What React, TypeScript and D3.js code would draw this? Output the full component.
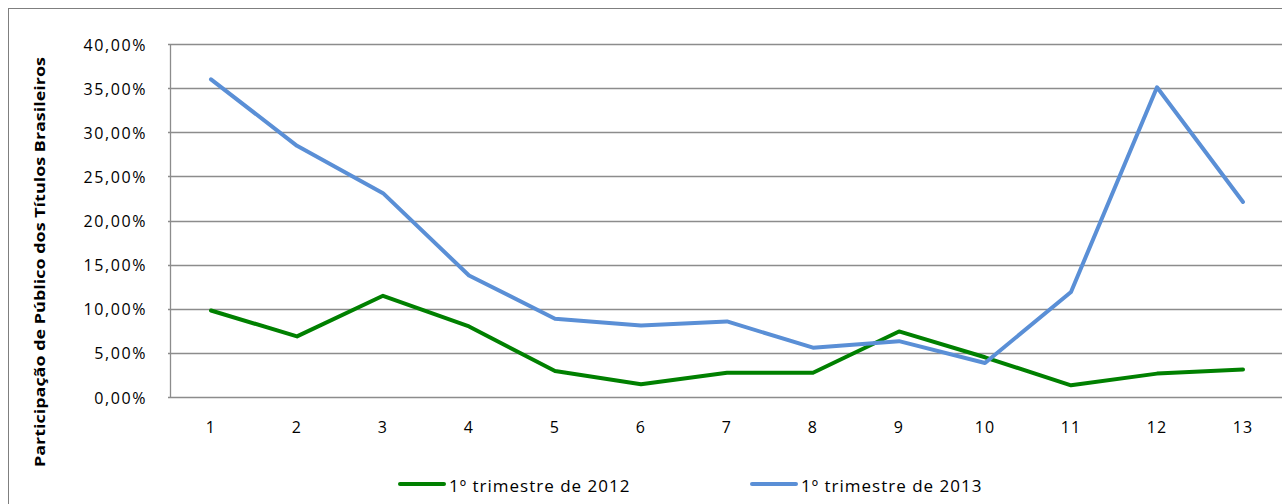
import React, { useEffect, useRef } from "react";
import * as d3 from "d3";

// categories on the x axis
const categories = ["1", "2", "3", "4", "5", "6", "7", "8", "9", "10", "11", "12", "13"];

// share of audience (%) per series
const values2012 = [9.8, 6.87, 11.47, 8.0, 2.94, 1.44, 2.75, 2.75, 7.43, 4.5, 1.32, 2.65, 3.13];
const values2013 = [36.0, 28.46, 23.1, 13.77, 8.87, 8.11, 8.56, 5.59, 6.33, 3.85, 11.9, 35.1, 22.1];

const seriesNames = ["1º trimestre de 2012", "1º trimestre de 2013"];
const yTicks = [0, 5, 10, 15, 20, 25, 30, 35, 40];

const colors = ["#008000", "#5A8FD6"];
const FONT = "'Open Sans', 'Noto Sans', sans-serif";

const App = () => {
  const svgRef = useRef<SVGSVGElement>(null);

  useEffect(() => {
    const svg = d3.select(svgRef.current);
    svg.selectAll("*").remove();

    const W = 1282;
    const H = 504;

    // outer chart border (cut off on right and bottom like the reference)
    svg
      .append("rect")
      .attr("x", 8.5)
      .attr("y", 8.5)
      .attr("width", W + 20)
      .attr("height", H + 20)
      .attr("fill", "#fff")
      .attr("stroke", "#7f7f7f")
      .attr("stroke-width", 1);

    const plot = { left: 168, top: 44, bottom: 397 };
    const bandW = 86;
    const plotRight = plot.left + bandW * categories.length;

    const x = d3
      .scaleBand()
      .domain(categories)
      .range([plot.left, plotRight]);
    const y = d3.scaleLinear().domain([0, 40]).range([plot.bottom, plot.top]);

    // gridlines
    svg
      .append("g")
      .selectAll("line")
      .data(yTicks)
      .enter()
      .append("line")
      .attr("x1", plot.left)
      .attr("x2", plotRight)
      .attr("y1", (d) => Math.round(y(d)) + 0.5)
      .attr("y2", (d) => Math.round(y(d)) + 0.5)
      .attr("stroke", "#8c8c8c")
      .attr("stroke-width", 1.3);

    // left axis line
    svg
      .append("line")
      .attr("x1", plot.left + 2.5)
      .attr("x2", plot.left + 2.5)
      .attr("y1", plot.top)
      .attr("y2", plot.bottom + 1)
      .attr("stroke", "#8c8c8c")
      .attr("stroke-width", 1.3);

    // y tick labels
    const fmt = (d: number) => d.toFixed(2).replace(".", ",") + "%";
    svg
      .append("g")
      .selectAll("text")
      .data(yTicks)
      .enter()
      .append("text")
      .attr("x", 147)
      .attr("y", (d) => y(d) + 6.5)
      .attr("text-anchor", "end")
      .attr("font-family", FONT)
      .attr("font-size", 16)
      .attr("letter-spacing", 1.6)
      .attr("fill", "#000")
      .text(fmt);

    // x tick labels
    svg
      .append("g")
      .selectAll("text")
      .data(categories)
      .enter()
      .append("text")
      .attr("x", (d) => (x(d) as number) + x.bandwidth() / 2)
      .attr("y", 433)
      .attr("text-anchor", "middle")
      .attr("font-family", FONT)
      .attr("font-size", 16)
      .attr("letter-spacing", 1.2)
      .attr("fill", "#000")
      .text((d) => d);

    // y axis title
    svg
      .append("text")
      .attr("transform", "translate(45,262) rotate(-90)")
      .attr("text-anchor", "middle")
      .attr("font-family", FONT)
      .attr("font-weight", "bold")
      .attr("font-size", 15)
      .attr("textLength", 410)
      .attr("lengthAdjust", "spacingAndGlyphs")
      .attr("fill", "#000")
      .text("Participação  de Público  dos Títulos  Brasileiros");

    // lines
    const line = d3
      .line<number>()
      .x((_, i) => (x(categories[i]) as number) + x.bandwidth() / 2)
      .y((d) => y(d));

    [values2012, values2013].forEach((vals, i) => {
      svg
        .append("path")
        .datum(vals)
        .attr("d", line)
        .attr("fill", "none")
        .attr("stroke", colors[i])
        .attr("stroke-width", 4)
        .attr("stroke-linejoin", "round")
        .attr("stroke-linecap", "round");
    });

    // legend
    const legendX = [399, 751];
    seriesNames.forEach((name, i) => {
      const g = svg.append("g").attr("transform", `translate(${legendX[i]},484)`);
      g.append("line")
        .attr("x1", 1)
        .attr("x2", 45)
        .attr("y1", 0)
        .attr("y2", 0)
        .attr("stroke", colors[i])
        .attr("stroke-width", 4)
        .attr("stroke-linecap", "round");
      g.append("text")
        .attr("x", 50)
        .attr("y", 8)
        .attr("font-family", FONT)
        .attr("font-size", 17)
        .attr("letter-spacing", 1.0)
        .attr("fill", "#000")
        .text(name);
    });
  }, []);

  return (
    <svg
      ref={svgRef}
      width={1282}
      height={504}
      style={{ position: "absolute", left: 0, top: 0, display: "block" }}
    ></svg>
  );
};

export default App;
